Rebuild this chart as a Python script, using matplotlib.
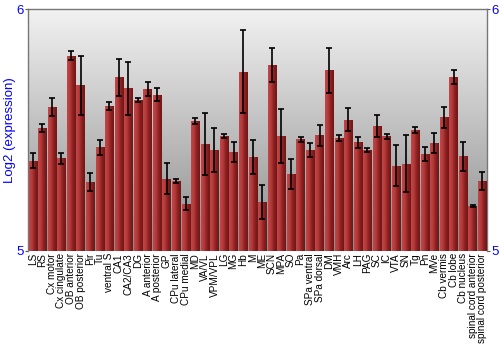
import numpy as np
import matplotlib
matplotlib.use("Agg")
import matplotlib.pyplot as plt
from matplotlib.colors import LinearSegmentedColormap

categories = ["LS", "RS", "Cx motor", "Cx cingulate", "OB anterior", "OB posterior", "Pir", "Tu",
              "ventral S", "CA1", "CA2/CA3", "DG", "A anterior", "A posterior", "GP", "CPu lateral",
              "CPu medial", "MD", "VA/VL", "VPM/VPL", "LG", "MG", "Hb", "M", "ME", "SCN", "MPA", "SO",
              "Pa", "SPa ventral", "SPa dorsal", "DM", "VMH", "Arc", "LH", "PAG", "SC", "IC", "VTA",
              "SN", "Tg", "Pn", "MVe", "Cb vermis", "Cb lobe", "Cb nucleus", "spinal cord anterior",
              "spinal cord posterior"]
values = [5.372, 5.507, 5.594, 5.384, 5.807, 5.686, 5.285, 5.428,
          5.600, 5.718, 5.672, 5.624, 5.669, 5.646, 5.298, 5.289,
          5.196, 5.536, 5.443, 5.417, 5.474, 5.409, 5.741, 5.390,
          5.202, 5.769, 5.475, 5.318, 5.461, 5.417, 5.479, 5.748,
          5.468, 5.543, 5.449, 5.416, 5.517, 5.474, 5.353, 5.360,
          5.501, 5.401, 5.445, 5.552, 5.719, 5.391, 5.185, 5.291]
errors = [0.031, 0.017, 0.037, 0.023, 0.019, 0.122, 0.038, 0.031,
          0.016, 0.076, 0.108, 0.009, 0.030, 0.028, 0.064, 0.008,
          0.027, 0.012, 0.127, 0.092, 0.008, 0.042, 0.172, 0.070,
          0.070, 0.072, 0.111, 0.061, 0.010, 0.030, 0.043, 0.093,
          0.012, 0.047, 0.024, 0.008, 0.044, 0.010, 0.084, 0.118,
          0.012, 0.028, 0.041, 0.043, 0.030, 0.059, 0.003, 0.037]
y_ticks = [5, 6]

plt.rcParams['font.family'] = ['Liberation Sans', 'DejaVu Sans']

fig = plt.figure(figsize=(5, 3.5), dpi=100)
ax = fig.add_axes([0.056, 0.283, 0.918, 0.691])

x = np.arange(len(categories))

# background vertical gradient
bg = np.linspace(0, 1, 256).reshape(-1, 1)
bg_cmap = LinearSegmentedColormap.from_list("bg", ["#8c8c8c", "#f2f2f2"])
ax.imshow(bg, cmap=bg_cmap, aspect='auto', extent=[0, 1, 0, 1], origin='lower',
          transform=ax.transAxes, zorder=0)

bars = ax.bar(x, [v - 5 for v in values], bottom=5, width=0.88, color="#a83232",
              edgecolor='none', zorder=2)

bar_cmap = LinearSegmentedColormap.from_list("bar", ["#c04848", "#b43a3a", "#8a2020", "#701616"])
hg = np.linspace(0, 1, 64).reshape(1, -1)
for p in bars:
    bx, by, bw, bh = p.get_x(), p.get_y(), p.get_width(), p.get_height()
    im = ax.imshow(hg, cmap=bar_cmap, aspect='auto', extent=[bx, bx + bw, by, by + bh],
                   zorder=3)
    im.set_clip_path(p)
ax.set_xlim(-0.5, len(categories) - 0.5)
ax.set_ylim(5, 6)

ax.errorbar(x, values, yerr=errors, fmt='none', ecolor='black', elinewidth=1.2,
            capsize=2.5, capthick=1.2, zorder=4)

ax.set_xticks(x)
ax.set_xticklabels(categories, rotation=90, fontsize=7.2)
ax.tick_params(axis='x', length=0, pad=1.5)

ax.set_yticks(y_ticks)
ax.set_yticklabels([str(t) for t in y_ticks], color='blue', fontsize=9.5)
ax.tick_params(axis='y', colors='#555555', labelcolor='blue', length=2.5, direction='out',
               left=True, right=True, labelleft=True, labelright=True, pad=0.5)
ax.set_ylabel("Log2 (expression)", color='blue', fontsize=9.5, labelpad=0)

for s in ax.spines.values():
    s.set_color('#777777')
    s.set_linewidth(1)
ax.spines['bottom'].set_visible(False)

fig.savefig("out.png", dpi=100)
